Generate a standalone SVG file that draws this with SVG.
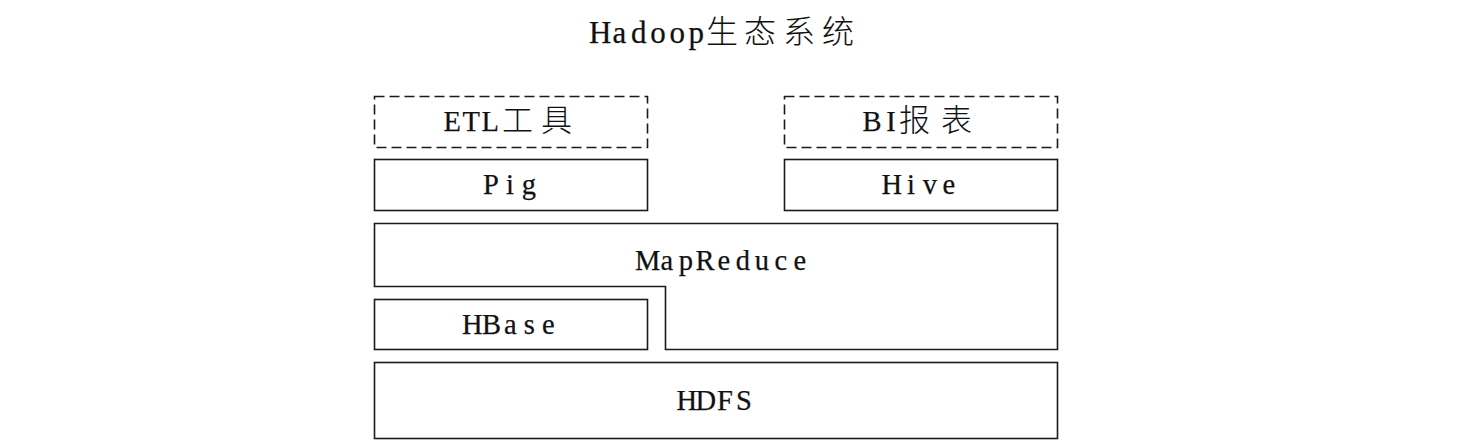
<svg xmlns="http://www.w3.org/2000/svg" width="1481" height="442" viewBox="0 0 1481 442">
<style>
.box{fill:#fff;stroke:#1a1a1a;stroke-width:1.6}
.dash{stroke-dasharray:10 5}
.t{font-family:"Liberation Serif","Noto Sans CJK SC",serif;font-size:28.5px;fill:#111;stroke:#111;stroke-width:0.25}
.c{font-family:"Noto Sans CJK SC","Liberation Serif",sans-serif;font-size:31px;font-weight:300;stroke-width:0}
.title{font-size:31px}
</style>
<rect width="1481" height="442" fill="#fff"/>
<g id="title">
<text class="t title" y="43"><tspan x="589 612.6 631 650.2 669.4 688.6">Hadoop</tspan><tspan class="c" x="706 744 783 822" style="font-size:32px">生态系统</tspan></text>
</g>
<g id="etl">
<rect class="box dash" x="374.5" y="96.5" width="273" height="51"/>
<text class="t" y="131"><tspan x="443.6 462.6 481.6">ETL</tspan><tspan class="c" x="502 541">工具</tspan></text>
</g>
<g id="bi">
<rect class="box dash" x="784.5" y="96.5" width="273" height="51"/>
<text class="t" y="131"><tspan x="862.4 886.2">BI</tspan><tspan class="c" x="899 941">报表</tspan></text>
</g>
<g id="pig">
<rect class="box" x="374.5" y="159.5" width="273" height="51"/>
<text class="t" x="482.9 505.9 521.7" y="194">Pig</text>
</g>
<g id="hive">
<rect class="box" x="784.5" y="159.5" width="273" height="51"/>
<text class="t" x="881.5 906.9 922.7 942.5" y="194">Hive</text>
</g>
<g id="mapreduce">
<path class="box" d="M374.5 223.5 H1057.5 V349.5 H665.5 V286.5 H374.5 Z"/>
<text class="t" x="635.1 660.5 678.7 695.4 717.5 735.7 754.7 774.5 793.5" y="270">MapReduce</text>
</g>
<g id="hbase">
<rect class="box" x="374.5" y="299.5" width="273" height="50"/>
<text class="t" x="462 481.9 504 523.8 542" y="334">HBase</text>
</g>
<g id="hdfs">
<rect class="box" x="374.5" y="362.5" width="683" height="76"/>
<text class="t" x="676.5 695.5 716.9 735.9" y="410">HDFS</text>
</g>
<g id="connectors"></g>
</svg>
